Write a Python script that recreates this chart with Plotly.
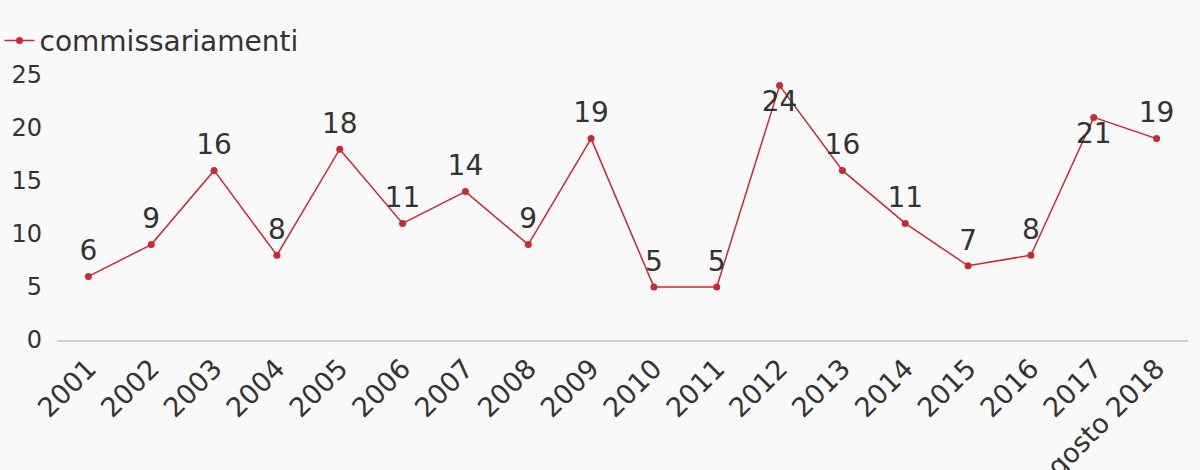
import plotly.graph_objects as go

years = ["2001", "2002", "2003", "2004", "2005", "2006", "2007", "2008", "2009",
         "2010", "2011", "2012", "2013", "2014", "2015", "2016", "2017", "agosto 2018"]
values = [6, 9, 16, 8, 18, 11, 14, 9, 19, 5, 5, 24, 16, 11, 7, 8, 21, 19]
label_pos = ["top center"] * len(values)
label_pos[11] = "bottom center"
label_pos[16] = "bottom center"
label_gap = [13 if p == "top center" else 6 for p in label_pos]

color = "#cc2833"
fig = go.Figure()
fig.add_trace(go.Scatter(
    x=years, y=values, mode="lines+markers", name="commissariamenti",
    line=dict(color=color, width=1.5), marker=dict(color=color, size=7),
    cliponaxis=False,
))
fig.add_trace(go.Scatter(
    x=years, y=values, mode="markers+text", showlegend=False, hoverinfo="skip",
    marker=dict(color=color, size=label_gap, opacity=0),
    text=[str(v) for v in values], textposition=label_pos,
    textfont=dict(size=28, color="#333333", family="DejaVu Sans"),
    cliponaxis=False,
))
fig.update_layout(
    width=1200, height=470,
    margin=dict(l=57, r=12, t=75, b=130, autoexpand=False),
    paper_bgcolor="#f9f9f9", plot_bgcolor="#f9f9f9",
    font=dict(family="DejaVu Sans", color="#333333", size=24),
    showlegend=True,
    legend=dict(x=-0.0508, y=1.035, xanchor="left", yanchor="bottom", orientation="h",
                font=dict(size=28, color="#333333"), bgcolor="rgba(0,0,0,0)"),
    xaxis=dict(type="category", tickangle=-45, showgrid=False, showline=True,
               linecolor="#d0d0d0", linewidth=2, ticks="", tickfont=dict(size=27),
               range=[-0.5, 17.5], automargin=False),
    yaxis=dict(range=[0, 25], dtick=5, showgrid=False, zeroline=False, ticks="",
               tickfont=dict(size=24), automargin=False, ticklabelstandoff=14),
)
fig.write_html("out.html", config={"displayModeBar": False},
               post_script="document.body.style.margin='0';document.body.style.overflow='hidden';")
